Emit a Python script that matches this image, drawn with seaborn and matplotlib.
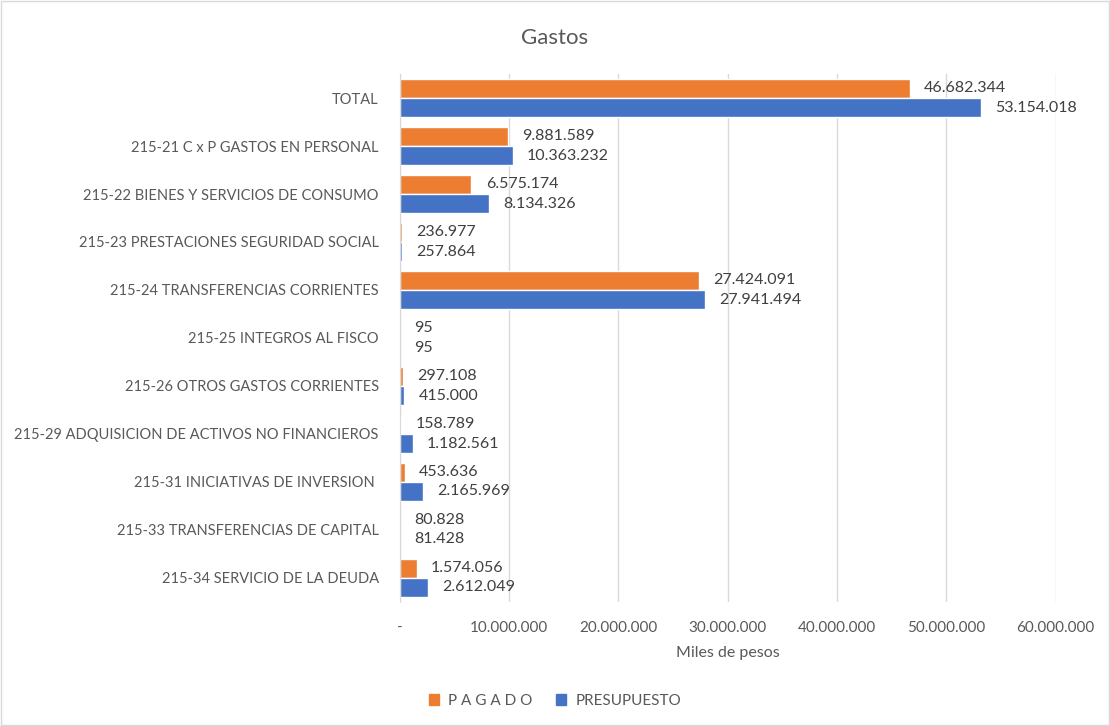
import pandas as pd
import seaborn as sns
import matplotlib.pyplot as plt
from matplotlib.patches import Patch

# Data
categories = [
    "TOTAL",
    "215-21 C x P GASTOS EN PERSONAL",
    "215-22 BIENES Y SERVICIOS DE CONSUMO",
    "215-23 PRESTACIONES SEGURIDAD SOCIAL",
    "215-24 TRANSFERENCIAS CORRIENTES",
    "215-25 INTEGROS AL FISCO",
    "215-26 OTROS GASTOS CORRIENTES",
    "215-29 ADQUISICION DE ACTIVOS NO FINANCIEROS",
    "215-31 INICIATIVAS DE INVERSION ",
    "215-33 TRANSFERENCIAS DE CAPITAL",
    "215-34 SERVICIO DE LA DEUDA",
]
pagado = [46682344, 9881589, 6575174, 236977, 27424091, 95, 297108, 158789, 453636, 80828, 1574056]
presupuesto = [53154018, 10363232, 8134326, 257864, 27941494, 95, 415000, 1182561, 2165969, 81428, 2612049]
series_names = ["P A G A D O", "PRESUPUESTO"]
colors = ["#ED7D31", "#4472C4"]
xticks = [0, 10000000, 20000000, 30000000, 40000000, 50000000, 60000000]

data = pd.DataFrame({
    "cat": categories * 2,
    "serie": [series_names[0]] * len(categories) + [series_names[1]] * len(categories),
    "valor": pagado + presupuesto,
})

sns.set_style("white")
plt.rcParams['font.family'] = ['Lato', 'DejaVu Sans']
txt = "#595959"

fig = plt.figure(figsize=(11.1, 7.26), dpi=100)
ax = fig.add_axes([0.360, 0.171, 0.591, 0.727])

sns.barplot(data=data, y="cat", x="valor", hue="serie", order=categories,
            hue_order=series_names, palette=colors, orient="h", width=0.8,
            saturation=1, ax=ax, legend=False)


def fmt(v):
    return f"{v:,.0f}".replace(",", ".")


for cont in ax.containers:
    for bar in cont:
        w = bar.get_width()
        y = bar.get_y() + bar.get_height() / 2
        ax.text(w + 1300000, y, fmt(w), va="center", ha="left", fontsize=11.5, color="#404040")

ax.set_xlim(0, 60000000)
ax.set_xticks(xticks)
ax.set_xticklabels(["-"] + [fmt(t) for t in xticks[1:]], fontsize=11, color=txt)
ax.tick_params(axis="y", labelsize=10.5, labelcolor=txt, length=0, pad=15)
ax.tick_params(axis="x", length=0, pad=14)
ax.xaxis.grid(True, color="#D9D9D9", linewidth=1)
ax.set_axisbelow(True)
for s in ["top", "right", "bottom"]:
    ax.spines[s].set_visible(False)
ax.spines["left"].set_color("#D9D9D9")
ax.set_ylabel("")
ax.set_xlabel("Miles de pesos", fontsize=11.5, color=txt, labelpad=8)

fig.text(0.5, 0.948, "Gastos", ha="center", va="center", fontsize=16, color=txt)

handles = [Patch(color=c, label=n) for c, n in zip(colors, series_names)]
fig.legend(handles=handles, loc="center", bbox_to_anchor=(0.5, 0.035), ncol=2,
           frameon=False, fontsize=11, handlelength=0.7, handleheight=0.7,
           columnspacing=1.5, handletextpad=0.6, labelcolor=txt)

border = plt.Rectangle((0.001, 0.001), 0.998, 0.998, transform=fig.transFigure,
                       fill=False, edgecolor="#D9D9D9", linewidth=1)
fig.patches.append(border)

fig.savefig("out.png", dpi=100)
